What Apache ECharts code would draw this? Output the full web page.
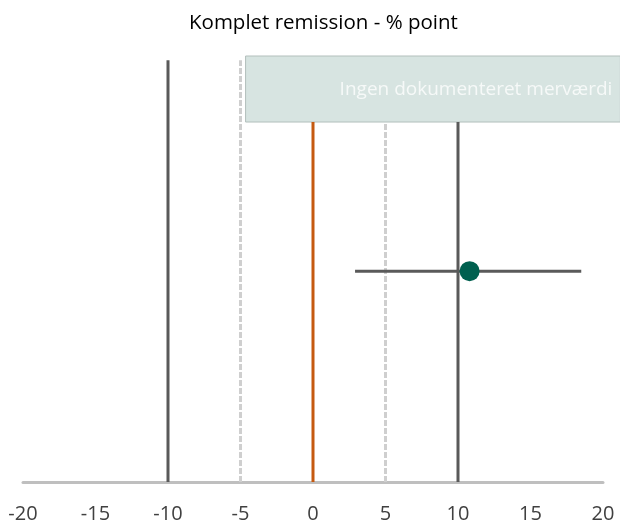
<!DOCTYPE html>
<html><head><meta charset="utf-8">
<script src="https://cdn.jsdelivr.net/npm/echarts@6/dist/echarts.min.js"></script>
<style>html,body{margin:0;padding:0;background:#fff}#c{width:620px;height:524px}</style>
</head><body><div id="c"></div>
<script>
const title = 'Komplet remission - % point';
const xTicks = [-20, -15, -10, -5, 0, 5, 10, 15, 20];
const boxLabel = 'Ingen dokumenteret merværdi';
// box region [xStart, xEnd, yBottom, yTop]
const box = [-4.65, 21.2, 84.5, 100];
// reference lines: x, yFrom, yTo
const solidLines = [[-10, 0, 99], [10, 0, 84.5]];
const zeroLine = [0, 0, 84.5];
const dashedLines = [[-5, 0, 99], [5, 0, 84.5]];
// estimate and CI
const estimate = [10.8, 49.5];
const ciLow = 2.9, ciHigh = 18.5;

function seg(x, y0, y1) { return [[x, y0], [x, y1]]; }

const series = [];
series.push({
  type: 'custom', clip: false, silent: true, z: 1,
  renderItem: function (params, api) {
    const p0 = api.coord([box[0], box[3]]);
    const p1 = api.coord([box[1], box[2]]);
    return {
      type: 'group', children: [
        { type: 'rect', shape: { x: p0[0], y: p0[1], width: p1[0] - p0[0], height: p1[1] - p0[1] },
          style: { fill: '#d7e4e1', stroke: '#b3bfbc', lineWidth: 1 } },
        { type: 'text', style: { text: boxLabel, x: p1[0] - 8, y: (p0[1] + p1[1]) / 2 + 1, align: 'right', verticalAlign: 'middle',
          fill: '#f6f9f8', font: '19px "Open Sans", sans-serif' } }
      ]
    };
  },
  data: [[0, 0]]
});
solidLines.forEach(l => series.push({ type: 'line', data: seg(l[0], l[1], l[2]), symbol: 'none', z: 2,
  lineStyle: { color: '#5a5a5a', width: 3 } }));
series.push({ type: 'line', data: seg(zeroLine[0], zeroLine[1], zeroLine[2]), symbol: 'none', z: 2,
  lineStyle: { color: '#c55a11', width: 3 } });
dashedLines.forEach(l => series.push({ type: 'line', data: seg(l[0], l[1], l[2]), symbol: 'none', z: 2,
  lineStyle: { color: '#cfcfcf', width: 3, type: [6, 2] } }));
series.push({ type: 'line', data: [[ciLow, estimate[1]], [ciHigh, estimate[1]]], symbol: 'none', z: 3,
  lineStyle: { color: '#5a5a5a', width: 3 } });
series.push({ type: 'scatter', data: [estimate], symbolSize: 20, z: 4,
  itemStyle: { color: '#00604f', opacity: 1 } });

const chart = echarts.init(document.getElementById('c'));
chart.setOption({
  animation: false,
  title: { text: title, left: 184, top: 8,
    textStyle: { fontFamily: '"Open Sans", sans-serif', fontSize: 20.5, fontWeight: 'normal', color: '#000' } },
  grid: { left: 23, right: 17, top: 56, bottom: 41 },
  xAxis: { type: 'value', min: -20, max: 20, interval: 5,
    axisLine: { show: true, onZero: false, lineStyle: { color: '#bfbfbf', width: 3 } },
    axisTick: { show: false }, splitLine: { show: false },
    axisLabel: { fontSize: 20, color: '#404040', margin: 22, fontFamily: '"Open Sans", sans-serif',
      formatter: v => xTicks.includes(v) ? String(v) : '' } },
  yAxis: { type: 'value', min: 0, max: 100, show: false },
  series: series
});
</script></body></html>
